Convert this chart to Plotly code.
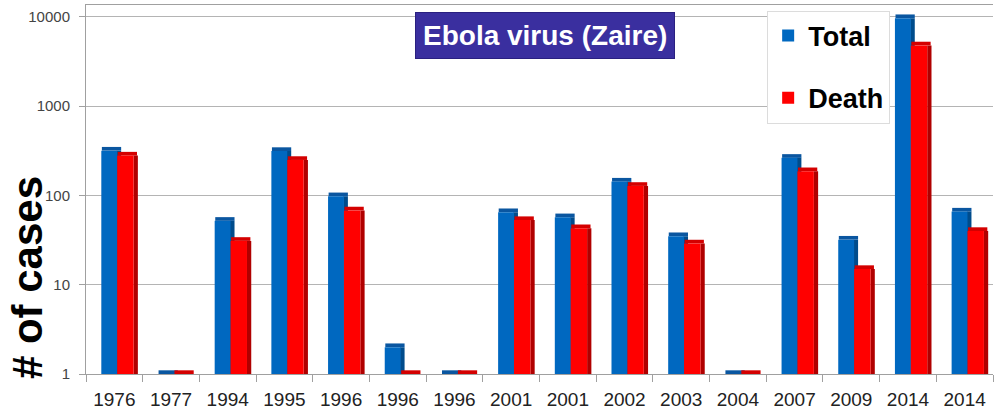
import plotly.graph_objects as go

years = ["1976", "1977", "1994", "1995", "1996", "1996", "1996", "2001",
         "2001", "2002", "2003", "2004", "2007", "2009", "2014", "2014"]
total = [318, 1, 52, 315, 98, 2, 1, 65, 57, 143, 35, 1, 264, 32, 9700, 66]
death = [280, 1, 31, 250, 68, 1, 1, 53, 43, 128, 29, 1, 187, 15, 4800, 40]
y_ticks = [1, 10, 100, 1000, 10000]
y_tick_labels = ["1", "10", "100", "1000", "10000"]

xpos = list(range(len(years)))

BLUE = "#0068c0"
BLUE_SIDE = "#004c8c"
BLUE_TOP = "#0a56a0"
RED = "#ff0000"
RED_SIDE = "#b00000"
RED_TOP = "#d40000"
SANS = "Liberation Sans, Arial, sans-serif"

CAP = 0.1  # thin top face, as a fraction of the value (log scale => constant pixel height)
total_cap = [v * CAP for v in total]
death_cap = [v * CAP for v in death]

fig = go.Figure()
# side / top faces (pseudo-3D)
fig.add_trace(go.Bar(x=xpos, y=total, width=0.08, offset=0.04, marker_color=BLUE_SIDE,
                     marker_line_width=0, showlegend=False, hoverinfo="skip"))
fig.add_trace(go.Bar(x=xpos, y=total_cap, base=total, width=0.34, offset=-0.22,
                     marker_color=BLUE_TOP, marker_line_width=0, showlegend=False, hoverinfo="skip"))
fig.add_trace(go.Bar(x=xpos, y=total, name="Total", width=0.28, offset=-0.23,
                     marker_color=BLUE, marker_line_width=0, legendgroup="a"))
fig.add_trace(go.Bar(x=xpos, y=death, width=0.075, offset=0.34, marker_color=RED_SIDE,
                     marker_line_width=0, showlegend=False, hoverinfo="skip"))
fig.add_trace(go.Bar(x=xpos, y=death_cap, base=death, width=0.34, offset=0.06,
                     marker_color=RED_TOP, marker_line_width=0, showlegend=False, hoverinfo="skip"))
fig.add_trace(go.Bar(x=xpos, y=death, name="Death", width=0.29, offset=0.05,
                     marker_color=RED, marker_line_width=0, legendgroup="b"))

fig.update_layout(
    width=1004, height=415,
    margin=dict(l=86, r=11, t=5, b=41),
    barmode="overlay",
    plot_bgcolor="white", paper_bgcolor="white",
    font=dict(family=SANS, color="#222"),
    legend=dict(
        x=0.751, y=0.985, xanchor="left", yanchor="top",
        bgcolor="white", bordercolor="#dcdcdc", borderwidth=1,
        font=dict(family=SANS, size=27, color="black", weight="bold"),
        traceorder="grouped", tracegroupgap=24,
    ),
    xaxis=dict(
        range=[-0.5, 15.5], tickvals=xpos, ticktext=years, ticks="",
        tickfont=dict(family=SANS, size=19, color="#222"),
        ticklabelstandoff=8,
        showgrid=False, showline=True, linecolor="#a0a0a0", linewidth=1, mirror=True,
        minor=dict(tick0=-0.5, dtick=1, ticks="outside", ticklen=7, tickcolor="#a0a0a0", showgrid=False),
        zeroline=False,
    ),
    yaxis=dict(
        type="log", range=[0, 4.134], tickvals=y_ticks, ticktext=y_tick_labels,
        tickfont=dict(family=SANS, size=15, color="#444"),
        ticks="outside", ticklen=6, tickcolor="#a0a0a0", ticklabelstandoff=6,
        showgrid=True, gridcolor="#b4b4b4", gridwidth=1,
        showline=True, linecolor="#a0a0a0", linewidth=1, zeroline=False,
    ),
    annotations=[
        dict(text="Ebola virus (Zaire)", xref="paper", yref="paper", x=0.506, y=0.917,
             xanchor="center", yanchor="middle", showarrow=False,
             font=dict(family=SANS, size=28, color="white", weight="bold"),
             bgcolor="#3a2f9f", borderpad=7, bordercolor="#2a2080", borderwidth=1),
        dict(text="# of cases", xref="paper", yref="paper", x=-0.065, y=0.26,
             xanchor="center", yanchor="middle", showarrow=False, textangle=-90,
             font=dict(family=SANS, size=42, color="black", weight="bold")),
    ],
)

fig.write_html("out.html")
